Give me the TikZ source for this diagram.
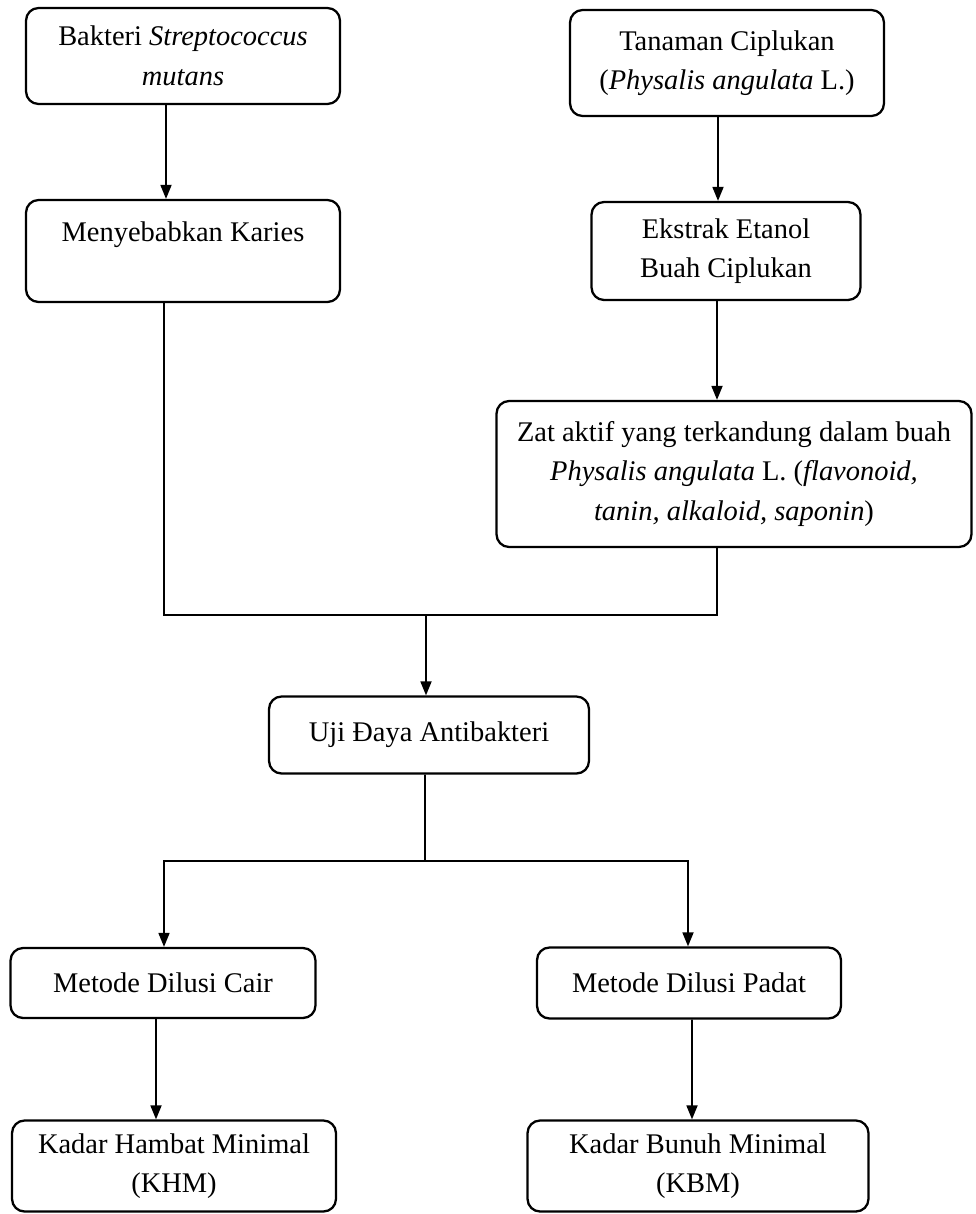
\documentclass[tikz,border=0pt]{standalone}
\usepackage{fontspec}
\setmainfont{Liberation Serif}
\usetikzlibrary{arrows.meta}

\tikzset{
  box/.style={draw, line width=1.3pt, rounded corners=0.25cm, align=center,
    inner sep=0pt, font=\fontsize{16.2}{22.5}\selectfont},
  link/.style={line width=1pt},
  arr/.style={link, -{Triangle[length=0.28cm,width=0.22cm]}}
}

\begin{document}
\begin{tikzpicture}[x=0.02cm, y=-0.02cm]
\useasboundingbox (0,0) rectangle (975,1214);
% Define nodes
% Top nodes
\node[box, minimum width=6.28cm, minimum height=1.92cm] (bakteri) at (183,56) {Bakteri \textit{Streptococcus}\\ \textit{mutans}};
\node[box, minimum width=6.28cm, minimum height=2.12cm] (tanaman) at (727,63) {Tanaman Ciplukan\\ (\textit{Physalis angulata} L.)};
\node[box, minimum width=6.28cm, minimum height=2.04cm] (karies) at (183,251) {Menyebabkan Karies\\ ~};
\node[box, minimum width=5.38cm, minimum height=1.96cm] (ekstrak) at (726,251) {Ekstrak Etanol\\ Buah Ciplukan};
\node[box, minimum width=9.5cm, minimum height=2.92cm] (zat) at (734,474) {Zat aktif yang terkandung dalam buah\\ \textit{Physalis angulata} L. (\textit{flavonoid,}\\ \textit{tanin, alkaloid, saponin})};
% Middle node
\node[box, minimum width=6.4cm, minimum height=1.54cm] (uji) at (429,735) {Uji Đaya Antibakteri};
% Bottom nodes
\node[box, minimum width=6.1cm, minimum height=1.4cm] (cair) at (163,983) {Metode Dilusi Cair};
\node[box, minimum width=6.08cm, minimum height=1.42cm] (padat) at (689,983) {Metode Dilusi Padat};
\node[box, minimum width=6.48cm, minimum height=1.82cm] (khm) at (174,1166) {Kadar Hambat Minimal\\ (KHM)};
\node[box, minimum width=6.82cm, minimum height=1.82cm] (kbm) at (698,1166) {Kadar Bunuh Minimal\\ (KBM)};

\coordinate (join) at (426,615);
\coordinate (split) at (425,861);

% Edges
\draw[arr] ([xshift=-0.34cm]bakteri.south) -- ([xshift=-0.34cm]karies.north);
\draw[arr] ([xshift=-0.18cm]tanaman.south) -- ([xshift=-0.16cm]ekstrak.north);
\draw[arr] ([xshift=-0.18cm]ekstrak.south) -- ([xshift=-0.34cm]zat.north);
\draw[link] ([xshift=-0.38cm]karies.south) |- (join);
\draw[link] ([xshift=-0.34cm]zat.south) |- (join);
\draw[arr] (join) -- ([xshift=-0.06cm]uji.north);
\draw[link] ([xshift=-0.08cm]uji.south) -- (split);
\draw[arr] (split) -| ([xshift=0.02cm]cair.north);
\draw[arr] (split) -| ([xshift=-0.02cm]padat.north);
\draw[arr] ([xshift=-0.14cm]cair.south) -- ([xshift=-0.36cm]khm.north);
\draw[arr] ([xshift=0.06cm]padat.south) -- ([xshift=-0.12cm]kbm.north);
\end{tikzpicture}
\end{document}
